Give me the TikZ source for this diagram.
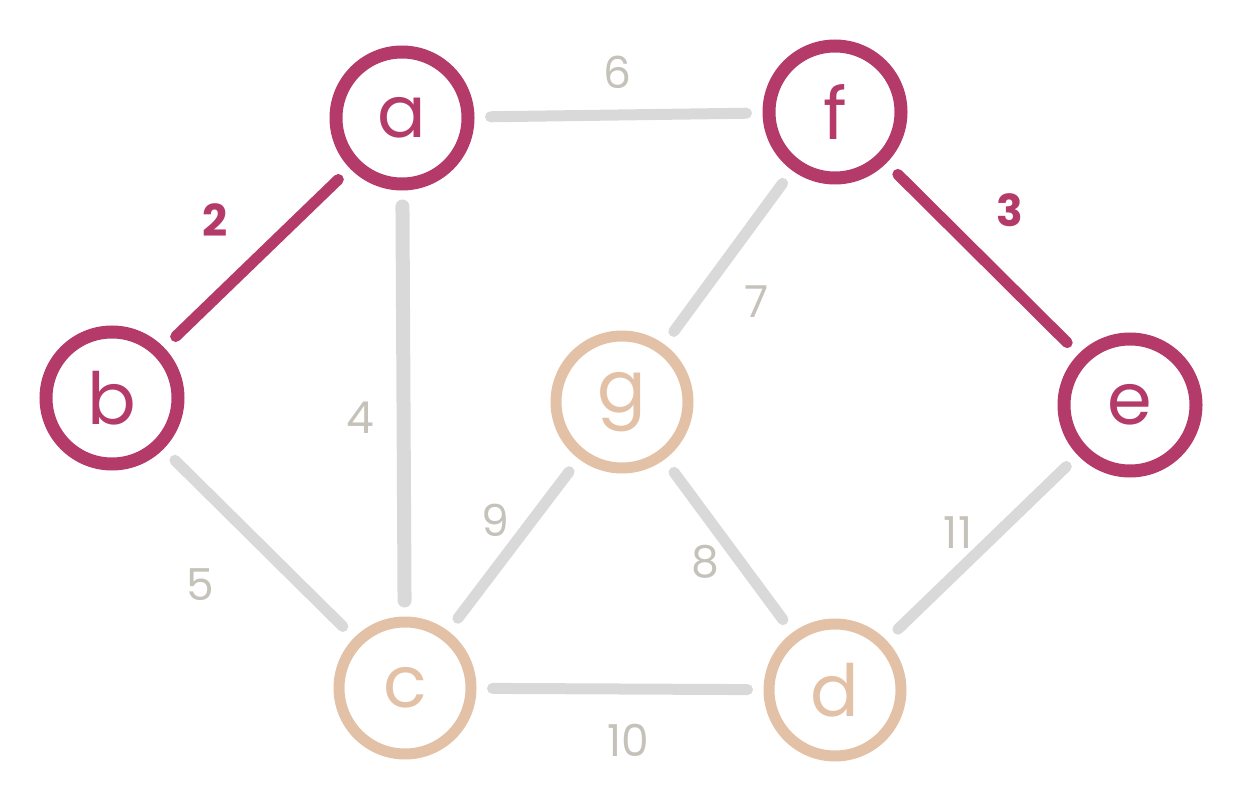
\documentclass[tikz,border=0pt]{standalone}
\usepackage{fontspec}
\setmainfont{Poppins}
\definecolor{mag}{HTML}{B43A6A}
\definecolor{peach}{HTML}{E3C1A7}
\definecolor{edg}{HTML}{D9D9D9}
\definecolor{lab}{HTML}{C5C2BA}
\begin{document}
\begin{tikzpicture}[x=1pt,y=-1pt,
  vtx/.style={circle,draw,line width=13pt,minimum size=132pt,inner sep=0pt,font=\fontsize{72}{72}\selectfont},
  hot/.style={vtx,draw=mag,text=mag},
  cool/.style={vtx,draw=peach,text=peach,line width=11pt},
  ed/.style={line width=11pt,draw=edg,line cap=round,shorten <=16pt,shorten >=16pt},
  hed/.style={ed,draw=mag},
  lbl/.style={text=lab,font=\fontsize{44}{44}\selectfont},
  hlbl/.style={lbl,text=mag,font=\fontsize{44}{44}\selectfont\bfseries}]
\useasboundingbox (0,0) rectangle (1240,794);
\node[hot] (a) at (402,118) {a};
\node[hot] (f) at (835,112) {f};
\node[hot] (b) at (112,398) {b};
\node[hot] (e) at (1130,405) {e};
\node[cool] (g) at (622,402) {g};
\node[cool] (c) at (405,688) {c};
\node[cool] (d) at (835,690) {d};
\draw[ed] (a) -- (f);
\draw[hed] (a) -- (b);
\draw[ed,line width=14pt] (a) -- (c);
\draw[ed] (f) -- (g);
\draw[hed] (f) -- (e);
\draw[ed] (b) -- (c);
\draw[ed] (g) -- (c);
\draw[ed] (g) -- (d);
\draw[ed] (e) -- (d);
\draw[ed] (c) -- (d);
\node[lbl] (l6) at (617,72) {6};
\node[hlbl] (l2) at (215,220) {2};
\node[lbl] (l4) at (360,418) {4};
\node[lbl] (l7) at (757,302) {7};
\node[hlbl] (l3) at (1010,210) {3};
\node[lbl] (l5) at (200,585) {5};
\node[lbl] (l9) at (495,520) {9};
\node[lbl] (l8) at (705,562) {8};
\node[lbl] (l11) at (958,533) {11};
\node[lbl] (l10) at (628,740) {10};
\end{tikzpicture}
\end{document}
